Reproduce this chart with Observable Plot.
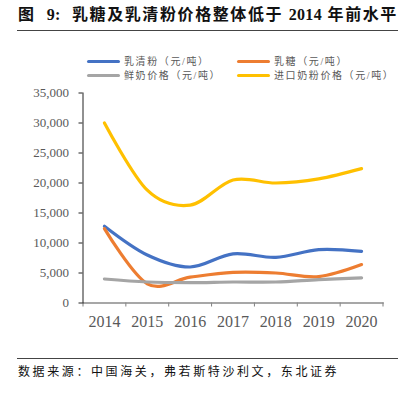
<!DOCTYPE html>
<html><head><meta charset="utf-8">
<script src="https://cdn.jsdelivr.net/npm/d3@7"></script>
<script src="https://cdn.jsdelivr.net/npm/@observablehq/plot@0.6"></script>
<style>
body{margin:0;background:#fff;}
#wrap{position:relative;width:406px;height:393px;overflow:hidden;font-family:"Liberation Serif","Noto Sans CJK SC",serif;}
#title{position:absolute;left:18px;top:5px;font-size:16px;font-weight:bold;color:#111;white-space:nowrap;letter-spacing:1.6px;line-height:20px;}
#title .n{letter-spacing:0.3px;}
#rule1{position:absolute;left:17px;top:30px;width:381px;height:0;border-top:1.5px solid #444;}
#legend{position:absolute;left:0;top:0;}
.li{position:absolute;height:14px;line-height:14px;font-size:10px;color:#595959;white-space:nowrap;letter-spacing:1.6px;}
.sw{display:inline-block;width:33px;height:3px;border-radius:2px;vertical-align:middle;margin-right:4px;position:relative;top:-1px;}
#chart{position:absolute;left:0;top:80px;}
#rule2{position:absolute;left:17px;top:358px;width:381px;height:0;border-top:1.5px solid #444;}
#source{position:absolute;left:18px;top:364px;font-size:12px;color:#111;white-space:nowrap;letter-spacing:2.6px;line-height:16px;}
</style></head><body>
<div id="wrap">
<div id="title">图&nbsp; <span class="n">9:</span>&nbsp; 乳糖及乳清粉价格整体低于 <span class="n">2014</span> 年前水平</div>
<div id="rule1"></div>
<div id="legend"></div>
<div id="chart"></div>
<div id="rule2"></div>
<div id="source">数据来源：中国海关，弗若斯特沙利文，东北证券</div>
</div>
<script>
const years = [2014, 2015, 2016, 2017, 2018, 2019, 2020];
const whey = [12800, 8000, 6000, 8200, 7600, 8900, 8600];
const lactose = [12400, 3200, 4300, 5100, 5000, 4400, 6400];
const milk = [4000, 3500, 3400, 3500, 3500, 3900, 4200];
const powder = [30000, 18800, 16300, 20500, 20000, 20700, 22400];
const seriesNames = ["乳清粉（元/吨）", "乳糖（元/吨）", "鲜奶价格（元/吨）", "进口奶粉价格（元/吨）"];
const seriesColors = ["#4472C4", "#ED7D31", "#A5A5A5", "#FFC000"];
const yTicks = [0, 5000, 10000, 15000, 20000, 25000, 30000, 35000];

const seriesValues = [whey, lactose, milk, powder];
const data = [];
seriesNames.forEach((name, i) => {
  years.forEach((yr, j) => data.push({series: name, year: yr, value: seriesValues[i][j]}));
});
const bounds = years.map(y => y - 0.5).concat([years[years.length - 1] + 0.5]);

// legend
const legend = document.getElementById("legend");
const pos = [[87, 55], [237, 55], [87, 69], [237, 69]];
seriesNames.forEach((name, i) => {
  const d = document.createElement("div");
  d.className = "li";
  d.style.left = pos[i][0] + "px";
  d.style.top = pos[i][1] + "px";
  d.innerHTML = `<span class="sw" style="background:${seriesColors[i]}"></span>${name}`;
  legend.appendChild(d);
});

const chart = Plot.plot({
  width: 406,
  height: 260,
  marginTop: 12.5,
  marginBottom: 37.5,
  marginLeft: 82.5,
  marginRight: 23.5,
  x: {type: "linear", domain: [bounds[0], bounds[bounds.length - 1]], label: null},
  y: {domain: [0, 35000], label: null},
  color: {domain: seriesNames, range: seriesColors},
  style: {fontFamily: "Liberation Serif", background: "transparent"},
  marks: [
    Plot.axisY({ticks: yTicks, tickSize: 0, tickPadding: 14, tickFormat: d3.format(","), fontSize: 13, color: "#595959", label: null}),
    Plot.axisY({ticks: yTicks, tickSize: 4, tickFormat: () => "", color: "#222", label: null}),
    Plot.axisX({ticks: years, tickSize: 0, tickPadding: 13, tickFormat: d => String(d), fontSize: 16, color: "#595959", label: null}),
    Plot.axisX({ticks: bounds, tickSize: 4, tickFormat: () => "", color: "#7f7f7f", label: null}),
    Plot.frame({anchor: "bottom", stroke: "#8a8a8a", strokeWidth: 1.5}),
    Plot.frame({anchor: "left", stroke: "#222", strokeWidth: 1}),
    Plot.line(data, {x: "year", y: "value", z: "series", stroke: "series", curve: "cardinal", strokeWidth: 3.2, strokeLinecap: "round"})
  ]
});
document.getElementById("chart").appendChild(chart);
</script>
</body></html>
